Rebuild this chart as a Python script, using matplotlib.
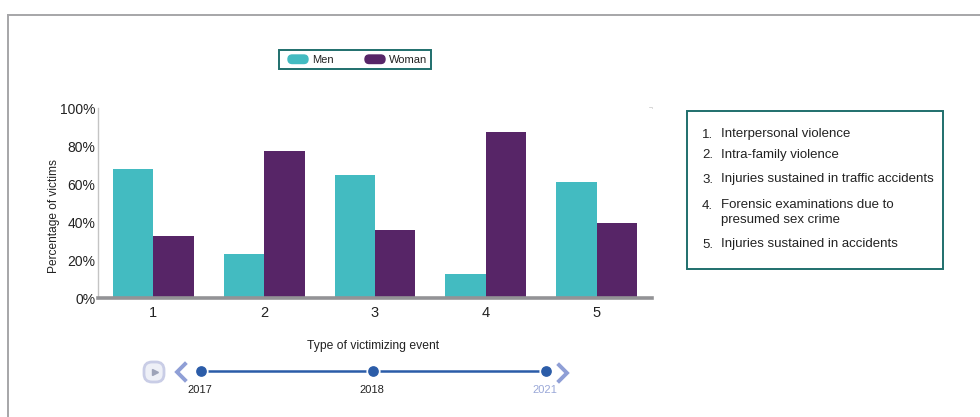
import matplotlib
matplotlib.use('Agg')
import matplotlib.pyplot as plt
from matplotlib.patches import FancyBboxPatch, Rectangle

categories = ['1', '2', '3', '4', '5']
men = [68, 23, 64.5, 12.5, 61]
woman = [32.5, 77.5, 36, 87.5, 39.5]
y_ticks = [0, 20, 40, 60, 80, 100]
y_tick_labels = ['0%', '20%', '40%', '60%', '80%', '100%']
years = ['2017', '2018', '2021']
event_types = [
    ('1.', ['Interpersonal violence']),
    ('2.', ['Intra-family violence']),
    ('3.', ['Injuries sustained in traffic accidents']),
    ('4.', ['Forensic examinations due to', 'presumed sex crime']),
    ('5.', ['Injuries sustained in accidents']),
]

TEAL = '#43bbc1'
PURPLE = '#572567'
FRAME = '#1f6f6c'
TEXT = '#222222'
W, H = 980, 417

plt.rcParams['font.family'] = ['Liberation Sans', 'DejaVu Sans']
fig = plt.figure(figsize=(W / 100, H / 100), dpi=100)

# overlay in pixel coordinates for the page furniture
page = fig.add_axes([0, 0, 1, 1])
page.set_xlim(0, W)
page.set_ylim(H, 0)
page.axis('off')
page.plot([8, 8], [H, 14.5], color='#a6a6a8', lw=1.4)
page.plot([8, W], [14.5, 14.5], color='#a6a6a8', lw=1.4)
page.plot([650, 652], [108, 108], color='#cfcfcf', lw=1.2)

# bar chart
ax = fig.add_axes([98 / W, 1 - 298 / H, 554 / W, 190 / H])
x = list(range(len(categories)))
width = 0.365
ax.bar([i - width / 2 for i in x], men, width, color=TEAL)
ax.bar([i + width / 2 for i in x], woman, width, color=PURPLE)
ax.set_xlim(-0.5, 4.5)
ax.set_ylim(0, 100)
ax.set_xticks(x, categories)
ax.set_yticks(y_ticks, y_tick_labels)
ax.tick_params(axis='x', length=0, pad=6, labelsize=10.5, labelcolor=TEXT)
ax.tick_params(axis='y', length=0, pad=2, labelsize=10, labelcolor=TEXT)
for side in ['top', 'right']:
    ax.spines[side].set_visible(False)
ax.spines['left'].set_color('#c4c4c4')
ax.spines['left'].set_linestyle((0, (1, 1)))
ax.spines['left'].set_linewidth(1)
ax.spines['bottom'].set_color('#939396')
ax.spines['bottom'].set_linewidth(2.6)
ax.set_ylabel('Percentage of victims', fontsize=8.6, color=TEXT, va='center')
ax.yaxis.set_label_coords(-0.08, 0.43)
ax.set_xlabel('Type of victimizing event', fontsize=8.7, color=TEXT, va='center')
ax.xaxis.set_label_coords(0.497, -0.25)

# legend box
page.add_patch(Rectangle((279, 50), 152, 19, fc='white', ec=FRAME, lw=1.4))
for x0, colour, label, tx in [(288, TEAL, 'Men', 312), (365, PURPLE, 'Woman', 389)]:
    page.add_patch(FancyBboxPatch((x0, 55), 20, 8.5, boxstyle='round,pad=0,rounding_size=4.2',
                                  fc=colour, ec=colour, lw=1))
    page.text(tx, 59.5, label, fontsize=8, color=TEXT, va='center')

# numbered list of event types
page.add_patch(Rectangle((686.5, 110.5), 256, 158, fc='white', ec=FRAME, lw=1.4))
list_y = [137, 158, 182, 208, 247]
for (num, lines), y in zip(event_types, list_y):
    page.text(702, y + 0.5, num, fontsize=9.5, color=TEXT, va='baseline')
    for n, line in enumerate(lines):
        page.text(721, y + n * 14.5, line, fontsize=9.5, color=TEXT, va='baseline')

# year slider
slider_x = [201, 373, 546]
page.plot(slider_x, [371, 371, 371], color='#2b5ca8', lw=1.8, zorder=1)
for sx, year in zip(slider_x, years):
    page.plot([sx], [371], 'o', ms=9.2, mfc='white', mec='white', zorder=2)
    page.plot([sx], [371], 'o', ms=6.7, mfc='#2b5ca8', mec='#2b5ca8', zorder=3)
    page.text(sx - 1, 390, year, fontsize=8, ha='center', va='center',
              color='#9aa8d8' if year == '2021' else TEXT)

# previous / next arrows and play button
page.plot([185, 177, 185], [364, 372, 380], color='#8f9fd6', lw=2.8, solid_joinstyle='miter')
page.plot([559, 567, 559], [365, 373, 381], color='#8f9fd6', lw=2.8, solid_joinstyle='miter')
page.add_patch(FancyBboxPatch((145, 363), 18, 18, boxstyle='round,pad=1,rounding_size=8',
                              fc='#eef0f7', ec='#c9cde6', lw=2))
page.plot([155], [372], '>', ms=5, mfc='#9da3b8', mec='#9da3b8')

fig.savefig('out.png', dpi=100)
